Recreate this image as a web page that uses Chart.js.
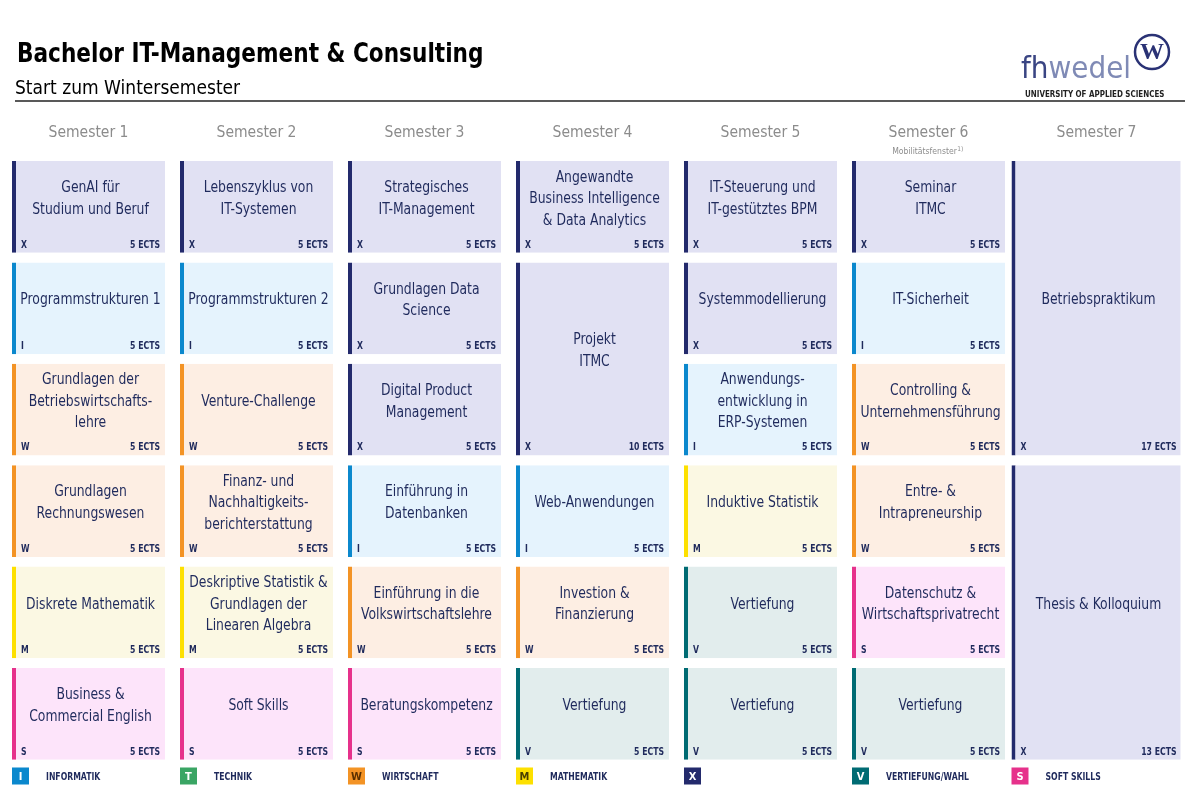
<!DOCTYPE html>
<html>
<head>
<meta charset="utf-8">
<script src="https://cdn.jsdelivr.net/npm/chart.js@4"></script>
<style>
  body { margin: 0; background: #fff; }
</style>
</head>
<body>
<canvas id="curriculum" width="1200" height="800"></canvas>
<script>
  // semesters and courses of the programme
  var semesters = ['Semester 1', 'Semester 2', 'Semester 3', 'Semester 4', 'Semester 5', 'Semester 6', 'Semester 7'];

  var courseNames = [
    'GenAI für\nStudium und Beruf', 'Programmstrukturen 1', 'Grundlagen der\nBetriebswirtschafts-\nlehre',
    'Grundlagen\nRechnungswesen', 'Diskrete Mathematik', 'Business &\nCommercial English',
    'Lebenszyklus von\nIT-Systemen', 'Programmstrukturen 2', 'Venture-Challenge',
    'Finanz- und\nNachhaltigkeits-\nberichterstattung', 'Deskriptive Statistik &\nGrundlagen der\nLinearen Algebra', 'Soft Skills',
    'Strategisches\nIT-Management', 'Grundlagen Data\nScience', 'Digital Product\nManagement',
    'Einführung in\nDatenbanken', 'Einführung in die\nVolkswirtschaftslehre', 'Beratungskompetenz',
    'Angewandte\nBusiness Intelligence\n& Data Analytics', 'Projekt\nITMC', 'Web-Anwendungen',
    'Investion &\nFinanzierung', 'Vertiefung',
    'IT-Steuerung und\nIT-gestütztes BPM', 'Systemmodellierung', 'Anwendungs-\nentwicklung in\nERP-Systemen',
    'Induktive Statistik', 'Vertiefung', 'Vertiefung',
    'Seminar\nITMC', 'IT-Sicherheit', 'Controlling &\nUnternehmensführung',
    'Entre- &\nIntrapreneurship', 'Datenschutz &\nWirtschaftsprivatrecht', 'Vertiefung',
    'Betriebspraktikum', 'Thesis & Kolloquium'
  ];
  var courseSemester = [0, 0, 0, 0, 0, 0, 1, 1, 1, 1, 1, 1, 2, 2, 2, 2, 2, 2, 3, 3, 3, 3, 3, 4, 4, 4, 4, 4, 4, 5, 5, 5, 5, 5, 5, 6, 6];
  var courseRow      = [0, 1, 2, 3, 4, 5, 0, 1, 2, 3, 4, 5, 0, 1, 2, 3, 4, 5, 0, 1, 3, 4, 5, 0, 1, 2, 3, 4, 5, 0, 1, 2, 3, 4, 5, 0, 3];
  var courseSpan     = [1, 1, 1, 1, 1, 1, 1, 1, 1, 1, 1, 1, 1, 1, 1, 1, 1, 1, 1, 2, 1, 1, 1, 1, 1, 1, 1, 1, 1, 1, 1, 1, 1, 1, 1, 3, 3];
  var courseCategory = ['X', 'I', 'W', 'W', 'M', 'S', 'X', 'I', 'W', 'W', 'M', 'S', 'X', 'X', 'X', 'I', 'W', 'S',
                        'X', 'X', 'I', 'W', 'V', 'X', 'X', 'I', 'M', 'V', 'V', 'X', 'I', 'W', 'W', 'S', 'V', 'X', 'X'];
  var courseEcts     = [5, 5, 5, 5, 5, 5, 5, 5, 5, 5, 5, 5, 5, 5, 5, 5, 5, 5, 5, 10, 5, 5, 5, 5, 5, 5, 5, 5, 5, 5, 5, 5, 5, 5, 5, 17, 13];

  var legendCodes  = ['I', 'T', 'W', 'M', 'X', 'V', 'S'];
  var legendLabels = ['INFORMATIK', 'TECHNIK', 'WIRTSCHAFT', 'MATHEMATIK', '', 'VERTIEFUNG/WAHL', 'SOFT SKILLS'];

  // styles
  var FONT = "'Liberation Sans Narrow', 'DejaVu Sans Condensed', sans-serif";
  var NAVY_TEXT = '#1f2a5c';
  var stripeColors = { X: '#232a6c', I: '#0b88cd', W: '#f39325', M: '#fde000', V: '#006b73', S: '#e6318b', T: '#3aa564' };
  var fillColors   = { X: '#e1e1f3', I: '#e5f3fd', W: '#fdeee3', M: '#fbf8e3', V: '#e2eded', S: '#fde4fa', T: '#e3f3ea' };
  var legendText   = { X: '#fff', I: '#fff', W: '#5a3000', M: '#4a4000', V: '#fff', S: '#fff', T: '#fff' };
  var GAP = 0.095;      // free space between rows (in row units)
  var COL_W = 153;      // cell width
  var WIDE_W = 170;     // last column is wider

  // one dataset per row (and per column width), floating bars
  var datasets = [];
  for (var r = 0; r < 6; r++) {
    [false, true].forEach(function (wide) {
      var data = [], idx = [];
      var used = false;
      semesters.forEach(function (s, si) {
        var c = -1;
        for (var k = 0; k < courseNames.length; k++) {
          if (courseSemester[k] === si && courseRow[k] === r && (si === 6) === wide) c = k;
        }
        if (c >= 0) {
          data.push([courseRow[c], courseRow[c] + courseSpan[c] - GAP]);
          idx.push(c);
          used = true;
        } else {
          data.push(null);
          idx.push(null);
        }
      });
      if (!used) return;
      datasets.push({
        data: data,
        courseIdx: idx,
        barThickness: wide ? WIDE_W : COL_W,
        backgroundColor: function (ctx) {
          var c = ctx.dataset.courseIdx[ctx.dataIndex];
          return c == null ? 'transparent' : fillColors[courseCategory[c]];
        },
        borderColor: function (ctx) {
          var c = ctx.dataset.courseIdx[ctx.dataIndex];
          return c == null ? 'transparent' : stripeColors[courseCategory[c]];
        },
        borderWidth: { left: 4, top: 0, right: 0, bottom: 0 },
        borderSkipped: false,
        inflateAmount: 0
      });
    });
  }

  // text squeezed horizontally, the original uses a narrow font
  function narrowText(ctx, text, x, y, sx) {
    ctx.save();
    ctx.translate(x, y);
    ctx.scale(sx, 1);
    ctx.fillText(text, 0, 0);
    ctx.restore();
  }

  var cellText = {
    id: 'cellText',
    afterDatasetsDraw: function (chart) {
      var ctx = chart.ctx;
      ctx.save();
      chart.data.datasets.forEach(function (ds, di) {
        var meta = chart.getDatasetMeta(di);
        meta.data.forEach(function (bar, i) {
          var c = ds.courseIdx[i];
          if (c == null) return;
          var p = bar.getProps(['x', 'y', 'base', 'width'], true);
          var top = Math.min(p.y, p.base), bottom = Math.max(p.y, p.base);
          var left = p.x - p.width / 2, right = p.x + p.width / 2;
          var lines = courseNames[c].split('\n');
          var mid = (top + bottom) / 2 - 8;
          ctx.fillStyle = NAVY_TEXT;
          ctx.font = '16px ' + FONT;
          ctx.textAlign = 'center';
          ctx.textBaseline = 'middle';
          lines.forEach(function (line, li) {
            narrowText(ctx, line, p.x + 2, mid + (li - (lines.length - 1) / 2) * 21.5, 0.86);
          });
          ctx.font = 'bold 10.5px ' + FONT;
          ctx.textAlign = 'left';
          narrowText(ctx, courseCategory[c], left + 9, bottom - 8, 0.82);
          ctx.textAlign = 'right';
          narrowText(ctx, courseEcts[c] + ' ECTS', right - 5, bottom - 8, 0.82);
        });
      });
      ctx.restore();
    }
  };

  var decorations = {
    id: 'decorations',
    afterDraw: function (chart) {
      var ctx = chart.ctx;
      var xs = chart.scales.x;
      ctx.save();
      // header
      ctx.fillStyle = '#000';
      ctx.textAlign = 'left';
      ctx.textBaseline = 'middle';
      ctx.font = 'bold 26px ' + FONT;
      narrowText(ctx, 'Bachelor IT-Management & Consulting', 17, 55, 0.925);
      ctx.font = '19px ' + FONT;
      narrowText(ctx, 'Start zum Wintersemester', 15, 89, 1);
      ctx.strokeStyle = '#222';
      ctx.lineWidth = 1.5;
      ctx.beginPath();
      ctx.moveTo(15, 101);
      ctx.lineTo(1185, 101);
      ctx.stroke();

      // logo
      ctx.font = '31px ' + FONT;
      ctx.textBaseline = 'alphabetic';
      ctx.fillStyle = '#3a4583';
      ctx.fillText('fh', 1021, 78);
      var fw = ctx.measureText('fh').width;
      ctx.fillStyle = '#7f8ab5';
      ctx.fillText('wedel', 1021 + fw, 78);
      ctx.beginPath();
      ctx.arc(1152, 52, 17, 0, Math.PI * 2);
      ctx.fillStyle = '#fff';
      ctx.fill();
      ctx.lineWidth = 2.5;
      ctx.strokeStyle = '#2a3275';
      ctx.stroke();
      ctx.fillStyle = '#2a3275';
      ctx.font = 'bold 24px "Liberation Serif", serif';
      ctx.textAlign = 'center';
      ctx.textBaseline = 'middle';
      ctx.fillText('W', 1152, 53);
      ctx.font = 'bold 9px ' + FONT;
      ctx.fillStyle = '#222';
      ctx.textAlign = 'left';
      narrowText(ctx, 'UNIVERSITY OF APPLIED SCIENCES', 1025, 95, 0.88);

      // mobility window note under semester 6
      var x6 = xs.getPixelForValue(5);
      ctx.font = '9.5px ' + FONT;
      ctx.fillStyle = '#8c8c8c';
      var mw = ctx.measureText('Mobilitätsfenster').width * 0.9;
      ctx.textAlign = 'left';
      narrowText(ctx, 'Mobilitätsfenster', x6 - mw / 2 - 4, 152, 0.9);
      ctx.font = '6.5px ' + FONT;
      ctx.fillText('1)', x6 + mw / 2 - 3.5, 149);

      // legend, aligned with column starts
      legendCodes.forEach(function (code, i) {
        var w = i === 6 ? WIDE_W : COL_W;
        var bx = xs.getPixelForValue(i) - w / 2;
        var cy = 776;
        ctx.fillStyle = stripeColors[code];
        ctx.fillRect(bx, cy - 8.5, 17, 17);
        ctx.fillStyle = legendText[code];
        ctx.font = 'bold 11px ' + FONT;
        ctx.textAlign = 'center';
        ctx.fillText(code, bx + 8.5, cy + 1);
        ctx.fillStyle = NAVY_TEXT;
        ctx.font = 'bold 10px ' + FONT;
        ctx.textAlign = 'left';
        narrowText(ctx, legendLabels[i], bx + 34, cy + 1, 0.86);
      });
      ctx.restore();
    }
  };

  Chart.defaults.font.family = FONT;

  new Chart(document.getElementById('curriculum'), {
    type: 'bar',
    data: {
      labels: semesters,
      datasets: datasets
    },
    options: {
      responsive: false,
      animation: false,
      devicePixelRatio: 1,
      layout: { padding: { top: 104, bottom: 30.6, left: 4.5, right: 19.5 } },
      datasets: { bar: { grouped: false } },
      scales: {
        x: {
          position: 'top',
          offset: true,
          grid: { display: false, drawTicks: false },
          border: { display: false },
          ticks: { color: '#8c8c8c', font: { size: 15.5 }, padding: 19.2 }
        },
        y: {
          type: 'linear',
          reverse: true,
          min: 0,
          max: 6,
          display: false
        }
      },
      plugins: {
        legend: { display: false },
        tooltip: { enabled: false }
      }
    },
    plugins: [cellText, decorations]
  });
</script>
</body>
</html>
